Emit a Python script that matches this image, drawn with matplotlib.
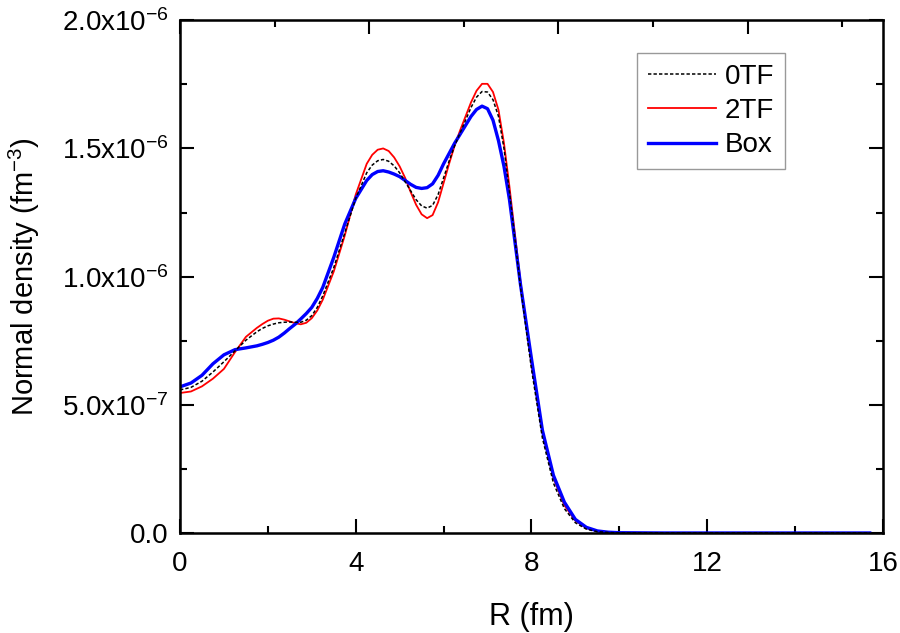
import numpy as np
import matplotlib
matplotlib.use("Agg")
import matplotlib.pyplot as plt
from matplotlib.ticker import MultipleLocator, FuncFormatter

plt.rcParams["font.family"] = ["Liberation Sans", "DejaVu Sans"]
plt.rcParams["mathtext.fontset"] = "custom"
plt.rcParams["mathtext.rm"] = "Liberation Sans"
plt.rcParams["mathtext.it"] = "Liberation Sans"
plt.rcParams["mathtext.default"] = "regular"

# R grid (fm), values in units of 1e-6 fm^-3
R = [0.0, 0.25, 0.5, 0.75, 1.0, 1.25, 1.5,
     1.75, 1.875, 2.0, 2.125, 2.25, 2.375, 2.5, 2.625, 2.75, 2.875, 3.0,
     3.125, 3.25,
     3.5, 3.75, 4.0,
     4.25, 4.375, 4.5, 4.625, 4.75, 4.875, 5.0, 5.125, 5.25, 5.375, 5.5,
     5.625, 5.75, 5.875, 6.0, 6.125, 6.25, 6.375, 6.5, 6.625, 6.75, 6.875,
     7.0, 7.125, 7.25, 7.375, 7.5,
     7.75, 8.0, 8.25, 8.5, 8.75, 9.0, 9.25, 9.5, 9.75, 10.0, 11.0, 12.0,
     14.0, 15.7]

dens_0tf = [0.558, 0.568, 0.592, 0.628, 0.668, 0.710, 0.752,
            0.785, 0.798, 0.808, 0.815, 0.820, 0.822, 0.823, 0.822, 0.822,
            0.830, 0.848, 0.880, 0.925,
            1.035, 1.170, 1.305,
            1.405, 1.435, 1.452, 1.457, 1.450, 1.432, 1.405, 1.370, 1.335,
            1.300, 1.276, 1.267, 1.278, 1.320, 1.385, 1.450, 1.510, 1.560,
            1.610, 1.660, 1.700, 1.722, 1.720, 1.690, 1.625, 1.500, 1.330,
            0.960, 0.640, 0.370, 0.195, 0.095, 0.040, 0.015, 0.005, 0.002,
            0.0, 0.0, 0.0, 0.0, 0.0]

dens_2tf = [0.546, 0.552, 0.572, 0.602, 0.640, 0.705, 0.765,
            0.800, 0.815, 0.828, 0.836, 0.837, 0.832, 0.825, 0.818, 0.814,
            0.820, 0.838, 0.868, 0.910,
            1.020, 1.160, 1.320,
            1.440, 1.475, 1.495, 1.500, 1.490, 1.465, 1.430, 1.385, 1.330,
            1.280, 1.243, 1.228, 1.240, 1.290, 1.365, 1.440, 1.510, 1.570,
            1.625, 1.680, 1.725, 1.752, 1.752, 1.720, 1.650, 1.520, 1.350,
            0.980, 0.660, 0.395, 0.215, 0.108, 0.048, 0.019, 0.007, 0.003,
            0.001, 0.0, 0.0, 0.0, 0.0]

dens_box = [0.570, 0.585, 0.615, 0.660, 0.695, 0.715, 0.722,
            0.730, 0.736, 0.743, 0.752, 0.764, 0.780, 0.798, 0.815, 0.835,
            0.856, 0.880, 0.915, 0.958,
            1.075, 1.205, 1.305,
            1.375, 1.398, 1.410, 1.413, 1.408, 1.400, 1.390, 1.375, 1.360,
            1.348, 1.344, 1.347, 1.362, 1.395, 1.440, 1.480, 1.520, 1.555,
            1.590, 1.625, 1.652, 1.665, 1.655, 1.610, 1.530, 1.430, 1.300,
            0.970, 0.680, 0.400, 0.225, 0.120, 0.053, 0.022, 0.008, 0.003,
            0.001, 0.0, 0.0, 0.0, 0.0]

R = np.array(R)
scale = 1e-6

fig = plt.figure(figsize=(9.0, 6.33), dpi=100)
ax = fig.add_axes([0.2, 0.158, 0.781, 0.810])

ax.plot(R, np.array(dens_0tf) * scale, color="black", lw=1.1,
        linestyle=(0, (2.2, 1.4)), label="0TF", zorder=3)
ax.plot(R, np.array(dens_2tf) * scale, color="#ff0000", lw=1.3,
        label="2TF", zorder=2)
ax.plot(R, np.array(dens_box) * scale, color="#0000ff", lw=2.4,
        label="Box", zorder=2.5)

ax.set_xlim(0, 16)
ax.set_ylim(0, 2.0e-6)

ax.xaxis.set_major_locator(MultipleLocator(4))
ax.xaxis.set_minor_locator(MultipleLocator(2))
ax.yaxis.set_major_locator(MultipleLocator(0.5e-6))
ax.yaxis.set_minor_locator(MultipleLocator(0.25e-6))


def yfmt(v, pos):
    if abs(v) < 1e-12:
        return "0.0"
    m = v / 1e-6
    if m >= 1:
        return f"{m:.1f}x10$^{{-6}}$"
    return f"{m * 10:.1f}x10$^{{-7}}$"


ax.yaxis.set_major_formatter(FuncFormatter(yfmt))

ax.tick_params(which="both", direction="in", width=1.5, labelsize=20,
               right=True, top=False)
ax.tick_params(which="major", length=10)
ax.tick_params(which="minor", length=5)
ax.tick_params(axis="x", which="major", pad=13)
ax.tick_params(axis="y", which="major", pad=8)
for sp in ax.spines.values():
    sp.set_linewidth(1.8)

# top axis in the original has its own tick spacing
top = ax.twiny()
top.set_xlim(0, 7.43)
top.xaxis.set_major_locator(MultipleLocator(2))
top.xaxis.set_minor_locator(MultipleLocator(1))
top.tick_params(which="both", direction="in", width=1.5, labeltop=False)
top.tick_params(which="major", length=10)
top.tick_params(which="minor", length=5)

ax.set_xlabel("R (fm)", fontsize=22)
ax.set_ylabel("Normal density (fm$^{-3}$)", fontsize=21)
ax.xaxis.set_label_coords(0.5, -0.135)
ax.yaxis.set_label_coords(-0.196, 0.5)

leg = ax.legend(loc="upper right", bbox_to_anchor=(0.861, 0.937),
                fontsize=20, frameon=True, fancybox=False,
                handlelength=2.45, handletextpad=0.3, borderpad=0.4,
                labelspacing=0.3, borderaxespad=0)
leg.get_frame().set_edgecolor("#808080")
leg.get_frame().set_linewidth(1.0)

fig.savefig("out.png", dpi=100)
